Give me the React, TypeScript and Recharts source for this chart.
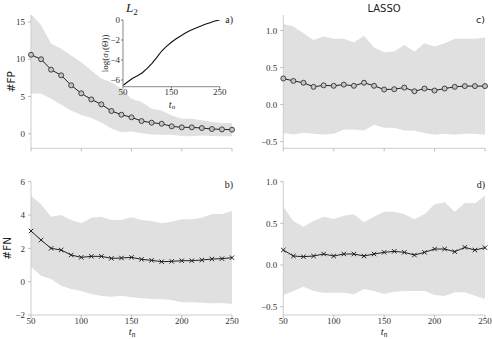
import React from 'react';
import { ComposedChart, LineChart, Area, Line, XAxis, YAxis, CartesianGrid } from 'recharts';

// ---------- data ----------
const tn = [50, 60, 70, 80, 90, 100, 110, 120, 130, 140, 150, 160, 170, 180, 190, 200, 210, 220, 230, 240, 250];

// a) L2, #FP
const fpL2Mean = [10.6, 10.0, 8.6, 7.84, 6.5, 5.42, 4.6, 3.94, 3.05, 2.55, 2.2, 1.7, 1.48, 1.34, 0.99, 0.85, 0.85, 0.76, 0.63, 0.58, 0.54];
const fpL2Hi = [16.1, 14.55, 12.1, 11.4, 10.5, 9.6, 8.5, 7.4, 6.9, 6.05, 4.7, 4.25, 3.36, 3.13, 2.46, 2.0, 2.0, 1.8, 1.57, 1.43, 1.43];
const fpL2Lo = [5.4, 5.4, 4.7, 3.9, 3.1, 2.5, 2.1, 1.5, 0.7, 0.2, 0.3, 0.05, -0.1, -0.15, -0.15, -0.3, -0.35, -0.25, -0.3, -0.35, -0.35];

// c) LASSO, #FP
const fpLassoMean = [0.353, 0.32, 0.295, 0.24, 0.26, 0.254, 0.27, 0.254, 0.295, 0.254, 0.204, 0.208, 0.23, 0.18, 0.217, 0.19, 0.217, 0.24, 0.25, 0.25, 0.25];
const fpLassoHi = [1.087, 1.056, 0.965, 0.874, 0.92, 0.888, 0.888, 0.838, 0.929, 0.77, 0.707, 0.716, 0.806, 0.716, 0.83, 0.784, 0.83, 0.888, 0.888, 0.888, 0.906];
const fpLassoLo = [-0.385, -0.403, -0.38, -0.394, -0.403, -0.394, -0.34, -0.335, -0.35, -0.272, -0.313, -0.313, -0.35, -0.353, -0.385, -0.408, -0.394, -0.408, -0.394, -0.394, -0.408];

// b) L2, #FN
const fnL2Mean = [3.04, 2.5, 2.0, 1.9, 1.6, 1.46, 1.52, 1.52, 1.4, 1.42, 1.46, 1.34, 1.28, 1.2, 1.22, 1.26, 1.26, 1.3, 1.36, 1.38, 1.44];
const fnL2Hi = [5.16, 4.64, 3.9, 4.0, 3.7, 3.5, 3.84, 3.9, 3.7, 3.7, 3.86, 3.7, 3.64, 3.5, 3.6, 3.74, 3.74, 3.84, 4.06, 4.06, 4.24];
const fnL2Lo = [0.9, 0.36, 0.16, -0.24, -0.44, -0.56, -0.74, -0.86, -0.9, -0.84, -0.94, -1.0, -1.04, -1.06, -1.1, -1.24, -1.24, -1.26, -1.3, -1.28, -1.34];

// d) LASSO, #FN
const fnLassoMean = [0.18, 0.108, 0.1, 0.108, 0.132, 0.108, 0.132, 0.132, 0.108, 0.132, 0.152, 0.164, 0.152, 0.12, 0.152, 0.192, 0.192, 0.16, 0.212, 0.18, 0.208];
const fnLassoHi = [0.7, 0.528, 0.46, 0.528, 0.58, 0.552, 0.592, 0.608, 0.512, 0.58, 0.64, 0.64, 0.608, 0.548, 0.608, 0.728, 0.752, 0.64, 0.744, 0.74, 0.832];
const fnLassoLo = [-0.36, -0.312, -0.26, -0.312, -0.332, -0.332, -0.332, -0.352, -0.288, -0.312, -0.348, -0.32, -0.312, -0.312, -0.312, -0.36, -0.372, -0.328, -0.328, -0.368, -0.408];

// inset: log(sigma_1(Theta))
const insetLogSigma = [-6.55, -6.17, -5.83, -5.57, -5.27, -4.83, -4.33, -3.73, -3.1, -2.63, -2.23, -1.87, -1.57, -1.27, -1.03, -0.83, -0.63, -0.43, -0.27, -0.1, 0];

const xTicks = [50, 100, 150, 200, 250];
const yTicksFpL2 = [0, 5, 10, 15];
const yTicksFnL2 = [-2, 0, 2, 4, 6];
const yTicksLasso = [-0.5, 0, 0.5, 1.0];
const insetXTicks = [50, 150, 250];
const insetYTicks = [-6, -4, -2, 0];

// ---------- styles ----------
const SPINE = '#cccccc';
const TICKC = '#bbbbbb';
const BAND = '#e0e0e0';
const LINE = '#222222';
const SERIF = '"Liberation Serif", "DejaVu Serif", serif';
const SANS = '"DejaVu Sans", sans-serif';
const tickStyle = { fontSize: 9, fill: '#333', fontFamily: SERIF };

const build = (mean: number[], lo: number[], hi: number[]) =>
  tn.map((t, i) => ({ t, mean: mean[i], band: [lo[i], hi[i]] }));

const fmtInt = (v: number) => (v < 0 ? '\u2212' + Math.abs(v) : String(v));
const fmt1 = (v: number) => (v < 0 ? '\u2212' + Math.abs(v).toFixed(1) : v.toFixed(1));

const circleDot = (p: any) => (
  <circle key={'c' + p.index} cx={p.cx} cy={p.cy} r={2.5} fill="#c4c4c4" stroke="#333" strokeWidth={0.9} />
);
const crossDot = (p: any) => {
  const s = 2.2;
  return (
    <path
      key={'x' + p.index}
      d={`M${p.cx - s},${p.cy - s}L${p.cx + s},${p.cy + s}M${p.cx - s},${p.cy + s}L${p.cx + s},${p.cy - s}`}
      stroke="#222"
      strokeWidth={1}
      fill="none"
    />
  );
};

type PanelProps = {
  data: any[];
  domain: [number, number];
  yTicks: number[];
  yFmt: (v: number) => string;
  dot: any;
  showX: boolean;
  width: number;
  height: number;
  yWidth: number;
  xHeight: number;
  top: number;
  right: number;
};

function Panel(p: PanelProps) {
  return (
    <ComposedChart
      width={p.width}
      height={p.height}
      data={p.data}
      margin={{ top: p.top, right: p.right, bottom: 0, left: 0 }}
    >
      <XAxis
        dataKey="t"
        type="number"
        domain={[50, 250]}
        ticks={xTicks}
        height={p.xHeight}
        tickSize={3}
        tickMargin={0}
        tickLine={{ stroke: TICKC }}
        axisLine={{ stroke: SPINE }}
        tick={tickStyle}
        tickFormatter={p.showX ? (v: number) => String(v) : () => ''}
        interval={0}
      />
      <XAxis
        xAxisId="top"
        orientation="top"
        type="number"
        domain={[50, 250]}
        height={0}
        tick={false}
        tickLine={false}
        axisLine={{ stroke: SPINE }}
      />
      <YAxis
        type="number"
        domain={p.domain}
        allowDataOverflow
        ticks={p.yTicks}
        width={p.yWidth}
        tickSize={3}
        tickMargin={3}
        tickLine={{ stroke: TICKC }}
        axisLine={{ stroke: SPINE }}
        tick={tickStyle}
        tickFormatter={p.yFmt}
        interval={0}
      />
      <YAxis
        yAxisId="right"
        orientation="right"
        type="number"
        domain={p.domain}
        width={0}
        tick={false}
        tickLine={false}
        axisLine={{ stroke: SPINE }}
      />
      <Area dataKey="band" stroke="none" fill={BAND} fillOpacity={1} isAnimationActive={false} />
      <Line dataKey="mean" stroke={LINE} strokeWidth={1} dot={p.dot} isAnimationActive={false} />
    </ComposedChart>
  );
}

function Inset() {
  const data = tn.map((t, i) => ({ t, v: insetLogSigma[i] }));
  return (
    <LineChart width={140} height={110} data={data} margin={{ top: 20, right: 20.3, bottom: 0, left: 0 }}>
      <CartesianGrid horizontal={false} vertical={false} fill="#ffffff" fillOpacity={1} />
      <XAxis
        dataKey="t"
        type="number"
        domain={[50, 250]}
        ticks={insetXTicks}
        height={23.3}
        tickSize={2}
        tickMargin={0}
        tickLine={{ stroke: '#777' }}
        axisLine={{ stroke: '#888' }}
        tick={tickStyle}
        interval={0}
      />
      <XAxis xAxisId="top" orientation="top" type="number" domain={[50, 250]} height={0} tick={false} tickLine={false} axisLine={{ stroke: '#888' }} />
      <YAxis
        type="number"
        domain={[-6.67, 0]}
        allowDataOverflow
        ticks={insetYTicks}
        width={23}
        tickSize={2}
        tickMargin={1}
        tickLine={{ stroke: '#777' }}
        axisLine={{ stroke: '#888' }}
        tick={tickStyle}
        tickFormatter={fmtInt}
        interval={0}
      />
      <YAxis yAxisId="right" orientation="right" type="number" domain={[-6.67, 0]} width={0} tick={false} tickLine={false} axisLine={{ stroke: '#888' }} />
      <Line dataKey="v" stroke="#111" strokeWidth={1.1} dot={false} isAnimationActive={false} />
    </LineChart>
  );
}

const abs = (left: number, top: number): React.CSSProperties => ({ position: 'absolute', left, top });

const Tn = ({ x, y, size }: { x: number; y: number; size: number }) => (
  <text x={x} y={y} textAnchor="middle" fontFamily={SERIF} fontSize={size} fill="#222">
    <tspan fontStyle="italic">t</tspan>
    <tspan fontSize={size * 0.7} dy={size * 0.15} fontStyle="italic">n</tspan>
  </text>
);

export default function App() {
  return (
    <div style={{ position: 'absolute', left: 0, top: 0, width: 492, height: 339, background: '#fff', overflow: 'hidden' }}>
      <div style={abs(0, 0)}>
        <Panel data={build(fpL2Mean, fpL2Lo, fpL2Hi)} domain={[-1.96, 15.94]} yTicks={yTicksFpL2} yFmt={fmtInt}
          dot={circleDot} showX={false} width={240} height={165} yWidth={31} xHeight={16.7} top={15} right={8} />
      </div>
      <div style={abs(245, 0)}>
        <Panel data={build(fpLassoMean, fpLassoLo, fpLassoHi)} domain={[-0.59, 1.21]} yTicks={yTicksLasso} yFmt={fmt1}
          dot={circleDot} showX={false} width={247} height={165} yWidth={38.3} xHeight={16.7} top={15} right={7} />
      </div>
      <div style={abs(0, 165)}>
        <Panel data={build(fnL2Mean, fnL2Lo, fnL2Hi)} domain={[-2, 6]} yTicks={yTicksFnL2} yFmt={fmtInt}
          dot={crossDot} showX={true} width={240} height={174} yWidth={31} xHeight={24} top={16.7} right={8} />
      </div>
      <div style={abs(245, 165)}>
        <Panel data={build(fnLassoMean, fnLassoLo, fnLassoHi)} domain={[-0.6, 1.0]} yTicks={yTicksLasso} yFmt={fmt1}
          dot={crossDot} showX={true} width={247} height={174} yWidth={38.3} xHeight={24} top={16.7} right={7} />
      </div>
      <div style={abs(100, 0)}>
        <Inset />
      </div>
      <svg width={492} height={339} style={{ position: 'absolute', left: 0, top: 0, pointerEvents: 'none' }}>
        <text x={126} y={11.5} fontFamily={SERIF} fontSize={13} fontStyle="italic" fill="#222">
          L<tspan fontSize={9} dy={3} fontStyle="normal">2</tspan>
        </text>
        <text x={384} y={12.3} textAnchor="middle" fontFamily={SANS} fontSize={10} fill="#222">LASSO</text>
        <text x={15} y={81.7} textAnchor="middle" fontFamily={SANS} fontSize={10.5} fill="#222" transform="rotate(-90 15 81.7)">#FP</text>
        <text x={11.5} y={248.3} textAnchor="middle" fontFamily={SANS} fontSize={10.5} fill="#222" transform="rotate(-90 11.5 248.3)">#FN</text>
        <Tn x={132} y={335} size={10.5} />
        <Tn x={384} y={335} size={10.5} />
        <Tn x={172} y={107.5} size={10} />
        <text x={108} y={53.3} textAnchor="middle" fontFamily={SERIF} fontSize={9} fill="#222" transform="rotate(-90 108 53.3)">
          log(<tspan fontStyle="italic">σ</tspan><tspan fontSize={6.5} dy={1.5}>1</tspan><tspan dy={-1.5}>(Θ))</tspan>
        </text>
        <text x={233} y={23} textAnchor="end" fontFamily={SERIF} fontSize={10} fill="#222">a)</text>
        <text x={485} y={23} textAnchor="end" fontFamily={SANS} fontSize={9.5} fill="#222">c)</text>
        <text x={233} y={188} textAnchor="end" fontFamily={SERIF} fontSize={10} fill="#222">b)</text>
        <text x={485} y={188} textAnchor="end" fontFamily={SERIF} fontSize={10} fill="#222">d)</text>
      </svg>
    </div>
  );
}
